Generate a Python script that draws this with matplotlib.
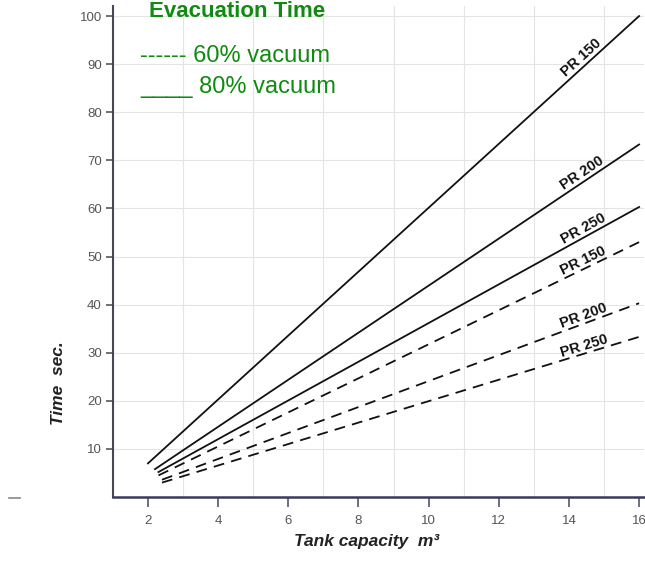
import math
import matplotlib.pyplot as plt
from matplotlib.lines import Line2D

# tank capacity (m3) endpoints of each line, and evacuation time (s)
solid_x = [[2.0, 16.0], [2.2, 16.0], [2.3, 16.0]]
solid_y = [[7.0, 100.0], [5.8, 73.3], [5.2, 60.3]]
dashed_x = [[2.3, 16.0], [2.4, 16.0], [2.4, 16.0]]
dashed_y = [[4.5, 53.0], [3.6, 40.3], [3.0, 33.3]]
solid_labels = ['PR 150', 'PR 200', 'PR 250']
dashed_labels = ['PR 150', 'PR 200', 'PR 250']
label_x = 14.5
xticks = [2, 4, 6, 8, 10, 12, 14, 16]
yticks = [10, 20, 30, 40, 50, 60, 70, 80, 90, 100]

fig = plt.figure(figsize=(6.45, 5.61), dpi=100)
ax = fig.add_axes([0.175, 0.114, 0.824, 0.8745])
ax.set_xlim(1, 16.15)
ax.set_ylim(0, 102)

ax.set_xticks(range(1, 17), minor=True)
ax.grid(True, which='minor', axis='x', color='#e4e4e4', lw=0.8)
ax.grid(True, which='major', axis='y', color='#e4e4e4', lw=0.8)
ax.set_axisbelow(True)

for xs, ys in zip(solid_x, solid_y):
    ax.plot(xs, ys, color='#111111', lw=1.3)
for xs, ys in zip(dashed_x, dashed_y):
    ax.plot(xs, ys, color='#111111', lw=1.3, ls=(0, (6, 4)))

def put_label(xs, ys, txt, dy):
    slope = (ys[1] - ys[0]) / (xs[1] - xs[0])
    y = ys[0] + slope * (label_x - xs[0])
    p1 = ax.transData.transform((xs[0], ys[0]))
    p2 = ax.transData.transform((xs[1], ys[1]))
    ang = math.degrees(math.atan2(p2[1] - p1[1], p2[0] - p1[0]))
    ax.annotate(txt, (label_x, y), xytext=(0, dy), textcoords='offset points',
                rotation=ang, rotation_mode='anchor', ha='center', va='bottom',
                fontsize=10.5, fontweight='bold', color='#111111',
                family='Liberation Sans')

for xs, ys, t in zip(solid_x, solid_y, solid_labels):
    put_label(xs, ys, t, 1)
for xs, ys, t in zip(dashed_x, dashed_y, dashed_labels):
    put_label(xs, ys, t, 0.5)

ax.set_xticks(xticks)
ax.set_yticks(yticks)
ax.tick_params(which='minor', length=0)
ax.tick_params(axis='x', direction='out', length=7, width=1.2, color='#555566',
               labelsize=9.5, labelcolor='#555555', pad=6)
ax.tick_params(axis='y', direction='out', length=5, width=1.2, color='#555566',
               labelsize=9.5, labelcolor='#555555', pad=3)
for lbl in ax.get_xticklabels() + ax.get_yticklabels():
    lbl.set_family('Liberation Sans')

ax.spines['top'].set_visible(False)
ax.spines['right'].set_visible(False)
ax.spines['left'].set_color('#4a4658')
ax.spines['bottom'].set_color('#3c3a5c')
ax.spines['left'].set_linewidth(1.5)
ax.spines['bottom'].set_linewidth(1.8)

fig.text(0.09, 0.317, 'Time  sec.', rotation=90, ha='center', va='center',
         fontsize=12.5, fontweight='bold', style='italic', color='#222222',
         family='Liberation Sans')
fig.text(0.569, 0.022, 'Tank capacity  m\u00b3', ha='center', va='bottom',
         fontsize=12.5, fontweight='bold', style='italic', color='#222222',
         family='Liberation Sans')

fig.text(0.367, 0.999, 'Evacuation Time', ha='center', va='top',
         fontsize=16, fontweight='bold', color='#108a10', family='Liberation Sans')
fig.text(0.217, 0.9, '------ 60% vacuum', ha='left', va='center',
         fontsize=17, color='#108a10', family='Liberation Sans')
fig.text(0.217, 0.845, '____ 80% vacuum', ha='left', va='center',
         fontsize=17, color='#108a10', family='Liberation Sans')

fig.add_artist(Line2D([0.014, 0.031], [0.112, 0.112], color='#888888', lw=1.2))

fig.savefig('out.png', dpi=100)
